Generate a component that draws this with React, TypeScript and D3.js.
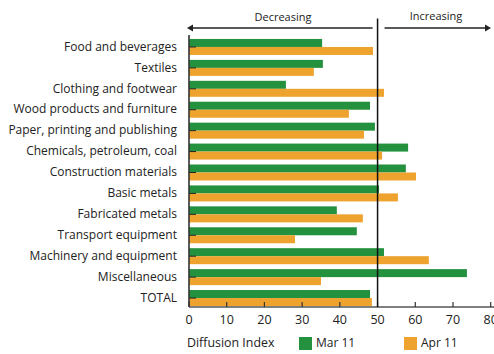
import React from "react";
import * as d3 from "d3";

const categories = [
  "Food and beverages",
  "Textiles",
  "Clothing and footwear",
  "Wood products and furniture",
  "Paper, printing and publishing",
  "Chemicals, petroleum, coal",
  "Construction materials",
  "Basic metals",
  "Fabricated metals",
  "Transport equipment",
  "Machinery and equipment",
  "Miscellaneous",
  "TOTAL",
];
const mar11 = [35.3, 35.5, 25.7, 48.0, 49.3, 58.1, 57.5, 50.4, 39.2, 44.5, 51.7, 73.7, 48.0];
const apr11 = [48.8, 33.1, 51.7, 42.4, 46.4, 51.2, 60.2, 55.4, 46.1, 28.1, 63.6, 35.0, 48.5];
const xTicks = [0, 10, 20, 30, 40, 50, 60, 70, 80];
const seriesNames = ["Mar 11", "Apr 11"];

const GREEN = "#23913d";
const ORANGE = "#eea32e";
const FONT = "'Open Sans', 'Noto Sans', sans-serif";

export default function App() {
  const W = 494, H = 354;
  const x = d3.scaleLinear().domain([0, 80]).range([189, 490.7]);
  const y = d3.scaleBand<string>().domain(categories).range([36.5, 308.5]).padding(0);
  const barH = 8;
  const axisY = 307;
  return (
    <svg width={W} height={H} style={{ position: "absolute", left: 0, top: 0, fontFamily: FONT }}>
      <rect width={W} height={H} fill="#fff" />
      {categories.map((c, i) => {
        const cy = (y(c) as number) + y.bandwidth() / 2;
        return (
          <g key={c}>
            <rect x={x(0)} y={cy - barH} width={x(mar11[i]) - x(0)} height={barH} fill={GREEN} />
            <rect x={x(0)} y={cy} width={x(apr11[i]) - x(0)} height={barH} fill={ORANGE} />
            <line x1={x(0)} x2={x(0) + 7} y1={cy} y2={cy} stroke="#222" strokeWidth={1} />
            <text x={177} y={cy - 0.5} dy="0.35em" textAnchor="end" fontSize={12} fill="#222">{c}</text>
          </g>
        );
      })}
      {/* left axis */}
      <line x1={x(0)} x2={x(0)} y1={35} y2={axisY} stroke="#333" strokeWidth={1.6} />
      {/* bottom axis */}
      <line x1={x(0)} x2={W} y1={axisY} y2={axisY} stroke="#555" strokeWidth={1.6} />
      {xTicks.map((t) => (
        <g key={t}>
          <line x1={x(t)} x2={x(t)} y1={axisY - 5} y2={axisY} stroke="#333" strokeWidth={1.2} />
          <text x={x(t)} y={320} dy="0.35em" textAnchor="middle" fontSize={12.5} fill="#222">{t}</text>
        </g>
      ))}
      {/* 50 reference line */}
      <line x1={x(50)} x2={x(50)} y1={18.5} y2={axisY} stroke="#111" strokeWidth={1.5} />
      {/* arrows */}
      <line x1={x(0) + 2} x2={x(50) - 5} y1={28} y2={28} stroke="#222" strokeWidth={1.3} />
      <path d={`M${x(0) - 2},28 l6,-3.5 v7 z`} fill="#222" />
      <line x1={x(50) + 7} x2={488} y1={28} y2={28} stroke="#222" strokeWidth={1.3} />
      <path d={`M${491},28 l-6,-3.5 v7 z`} fill="#222" />
      <text x={283} y={17} dy="0.35em" textAnchor="middle" fontSize={11} fill="#222">Decreasing</text>
      <text x={436} y={16} dy="0.35em" textAnchor="middle" fontSize={11} fill="#222">Increasing</text>
      {/* legend */}
      <text x={187} y={343} dy="0.35em" fontSize={12.4} fill="#222">Diffusion Index</text>
      <rect x={299} y={337} width={13} height={13} fill={GREEN} />
      <text x={316} y={343} dy="0.35em" fontSize={12} fill="#222">{seriesNames[0]}</text>
      <rect x={404} y={337} width={13} height={13} fill={ORANGE} />
      <text x={421} y={343} dy="0.35em" fontSize={12} fill="#222">{seriesNames[1]}</text>
    </svg>
  );
}
